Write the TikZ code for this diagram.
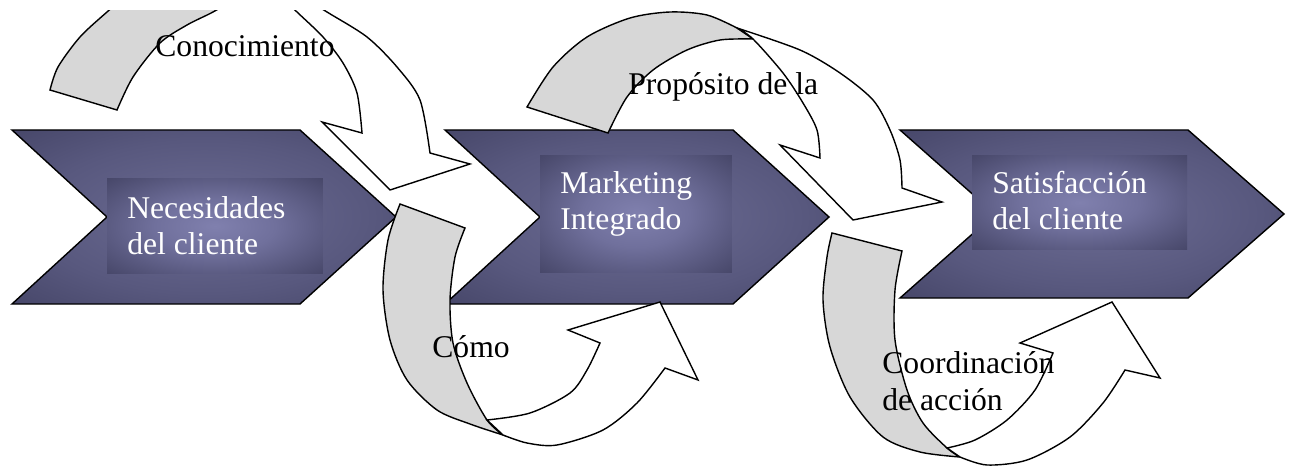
\documentclass[tikz,border=0pt]{standalone}
\usepackage{fontspec}
\setmainfont{Liberation Serif}
\usepackage{xcolor}
\usepackage{tikz}
\definecolor{step_dark}{RGB}{58,58,90}
\definecolor{step_mid}{RGB}{88,88,126}
\definecolor{step_light}{RGB}{108,108,148}
\definecolor{panel_dark}{RGB}{62,62,94}
\definecolor{panel_mid}{RGB}{112,112,156}
\definecolor{panel_light}{RGB}{128,128,174}
\definecolor{back_gray}{RGB}{215,215,215}
\pgfdeclareradialshading{step_glow}{\pgfpoint{0bp}{0bp}}{color(0bp)=(step_light); color(22bp)=(step_mid); color(46bp)=(step_dark); color(75bp)=(step_dark)}
\pgfdeclareradialshading{panel_glow}{\pgfpoint{0bp}{0bp}}{color(0bp)=(panel_light); color(14bp)=(panel_mid); color(40bp)=(panel_dark); color(75bp)=(panel_dark)}
\tikzset{ step_box/.style = {draw, line width=0.8pt, line join=miter, shading=step_glow} }
\tikzset{ panel_box/.style = {rectangle, inner sep=0pt, shade, shading=panel_glow} }
\tikzset{ back_face/.style = {draw, fill=back_gray, line width=0.8pt} }
\tikzset{ front_face/.style = {draw, fill=white, line width=0.8pt} }
\tikzset{ dark_label/.style = {anchor=base west, align=left, inner sep=0pt, font=\fontsize{18}{21}\selectfont} }
\tikzset{ light_label/.style = {dark_label, text=white} }

\begin{document}
\begin{tikzpicture}[x=0.02cm, y=-0.02cm]
    \useasboundingbox (0,0) rectangle (1293,469);
    \foreach \x/\b in {12/304, 445/304, 900/298}
        \shadedraw[step_box] (\x,130) -- (\x+288,130) -- (\x+384,{(130+\b)/2}) -- (\x+288,\b) -- (\x,\b) -- (\x+95,{(130+\b)/2}) -- cycle;
    \node[panel_box, minimum width=4.32cm, minimum height=1.92cm] (needs_panel) at (215,226) {};
    \node[panel_box, minimum width=3.84cm, minimum height=2.36cm] (mkt_panel) at (636,214) {};
    \node[panel_box, minimum width=4.30cm, minimum height=1.90cm] (sat_panel) at (1079.5,202.5) {};

    % top left arrow runs past the page edge
    \begin{scope}
        \clip (0,11) rectangle (1293,469);
        \filldraw[back_face] (117,110) -- (50,90) -- plot[smooth] coordinates {(50,90) (58,67) (80,37) (107,12) (135,-12)} -- (240,-4) -- plot[smooth] coordinates {(240,-4) (213,12) (187,25) (160,43) (133,77) (117,110)} -- cycle;
        \filldraw[front_face] plot[smooth] coordinates {(272,-12) (297,12) (323,37) (343,63) (357,93) (362,133)} -- (322,122) -- (390,190) -- (470,164) -- (430,153) -- plot[smooth] coordinates {(430,153) (420,100) (397,67) (367,37) (327,12) (295,-8)} -- cycle;
    \end{scope}

    \filldraw[back_face] plot[smooth] coordinates {(527,107) (553,67) (587,37) (630,18) (670,12) (707,15) (737,28)} -- (753,39) -- plot[smooth] coordinates {(753,39) (720,40) (687,50) (653,70) (627,97) (608,133)} -- cycle;
    \filldraw[front_face] plot[smooth] coordinates {(737,28) (800,50) (840,73) (873,100) (890,130) (900,160) (902,188)} -- (942,202) -- (853,220) -- (780,145) -- (820,158) -- plot[smooth] coordinates {(820,158) (817,130) (803,103) (783,73) (753,39) (737,28)} -- cycle;

    \filldraw[back_face] plot[smooth] coordinates {(400,204) (388,240) (383,290) (390,340) (407,380) (437,410) (470,424) (503,435)} -- plot[smooth] coordinates {(503,435) (487,420) (467,383) (453,343) (450,300) (455,257) (465,228)} -- cycle;
    \filldraw[front_face] plot[smooth] coordinates {(503,435) (527,443) (557,445) (603,430) (637,403) (665,368)} -- (698,380) -- (660,302) -- (568,330) -- (600,343) -- plot[smooth] coordinates {(600,343) (587,370) (570,393) (530,413) (487,420)} -- cycle;

    \filldraw[back_face] plot[smooth] coordinates {(832,233) (827,257) (823,300) (830,347) (850,397) (883,437) (920,452) (960,457)} -- plot[smooth] coordinates {(960,457) (947,448) (923,423) (907,390) (895,340) (895,290) (902,251)} -- cycle;
    \filldraw[front_face] plot[smooth] coordinates {(960,457) (987,465) (1027,460) (1070,437) (1103,403) (1125,370)} -- (1160,378) -- (1112,302) -- (1020,343) -- (1053,353) -- plot[smooth] coordinates {(1053,353) (1035,390) (1007,420) (975,440) (947,448)} -- cycle;

    \node[light_label] (needs_text) at (127,255) {Necesidades\\del cliente};
    \node[light_label] (mkt_text) at (560,230) {Marketing\\Integrado};
    \node[light_label] (sat_text) at (992,230) {Satisfacción\\del cliente};
    \node[dark_label] (know_text) at (155,57) {Conocimiento};
    \node[dark_label] (aim_text) at (628,95) {Propósito de la};
    \node[dark_label] (how_text) at (432,357) {Cómo};
    \node[dark_label] (coord_text) at (882,410) {Coordinación\\de acción};
\end{tikzpicture}
\end{document}
